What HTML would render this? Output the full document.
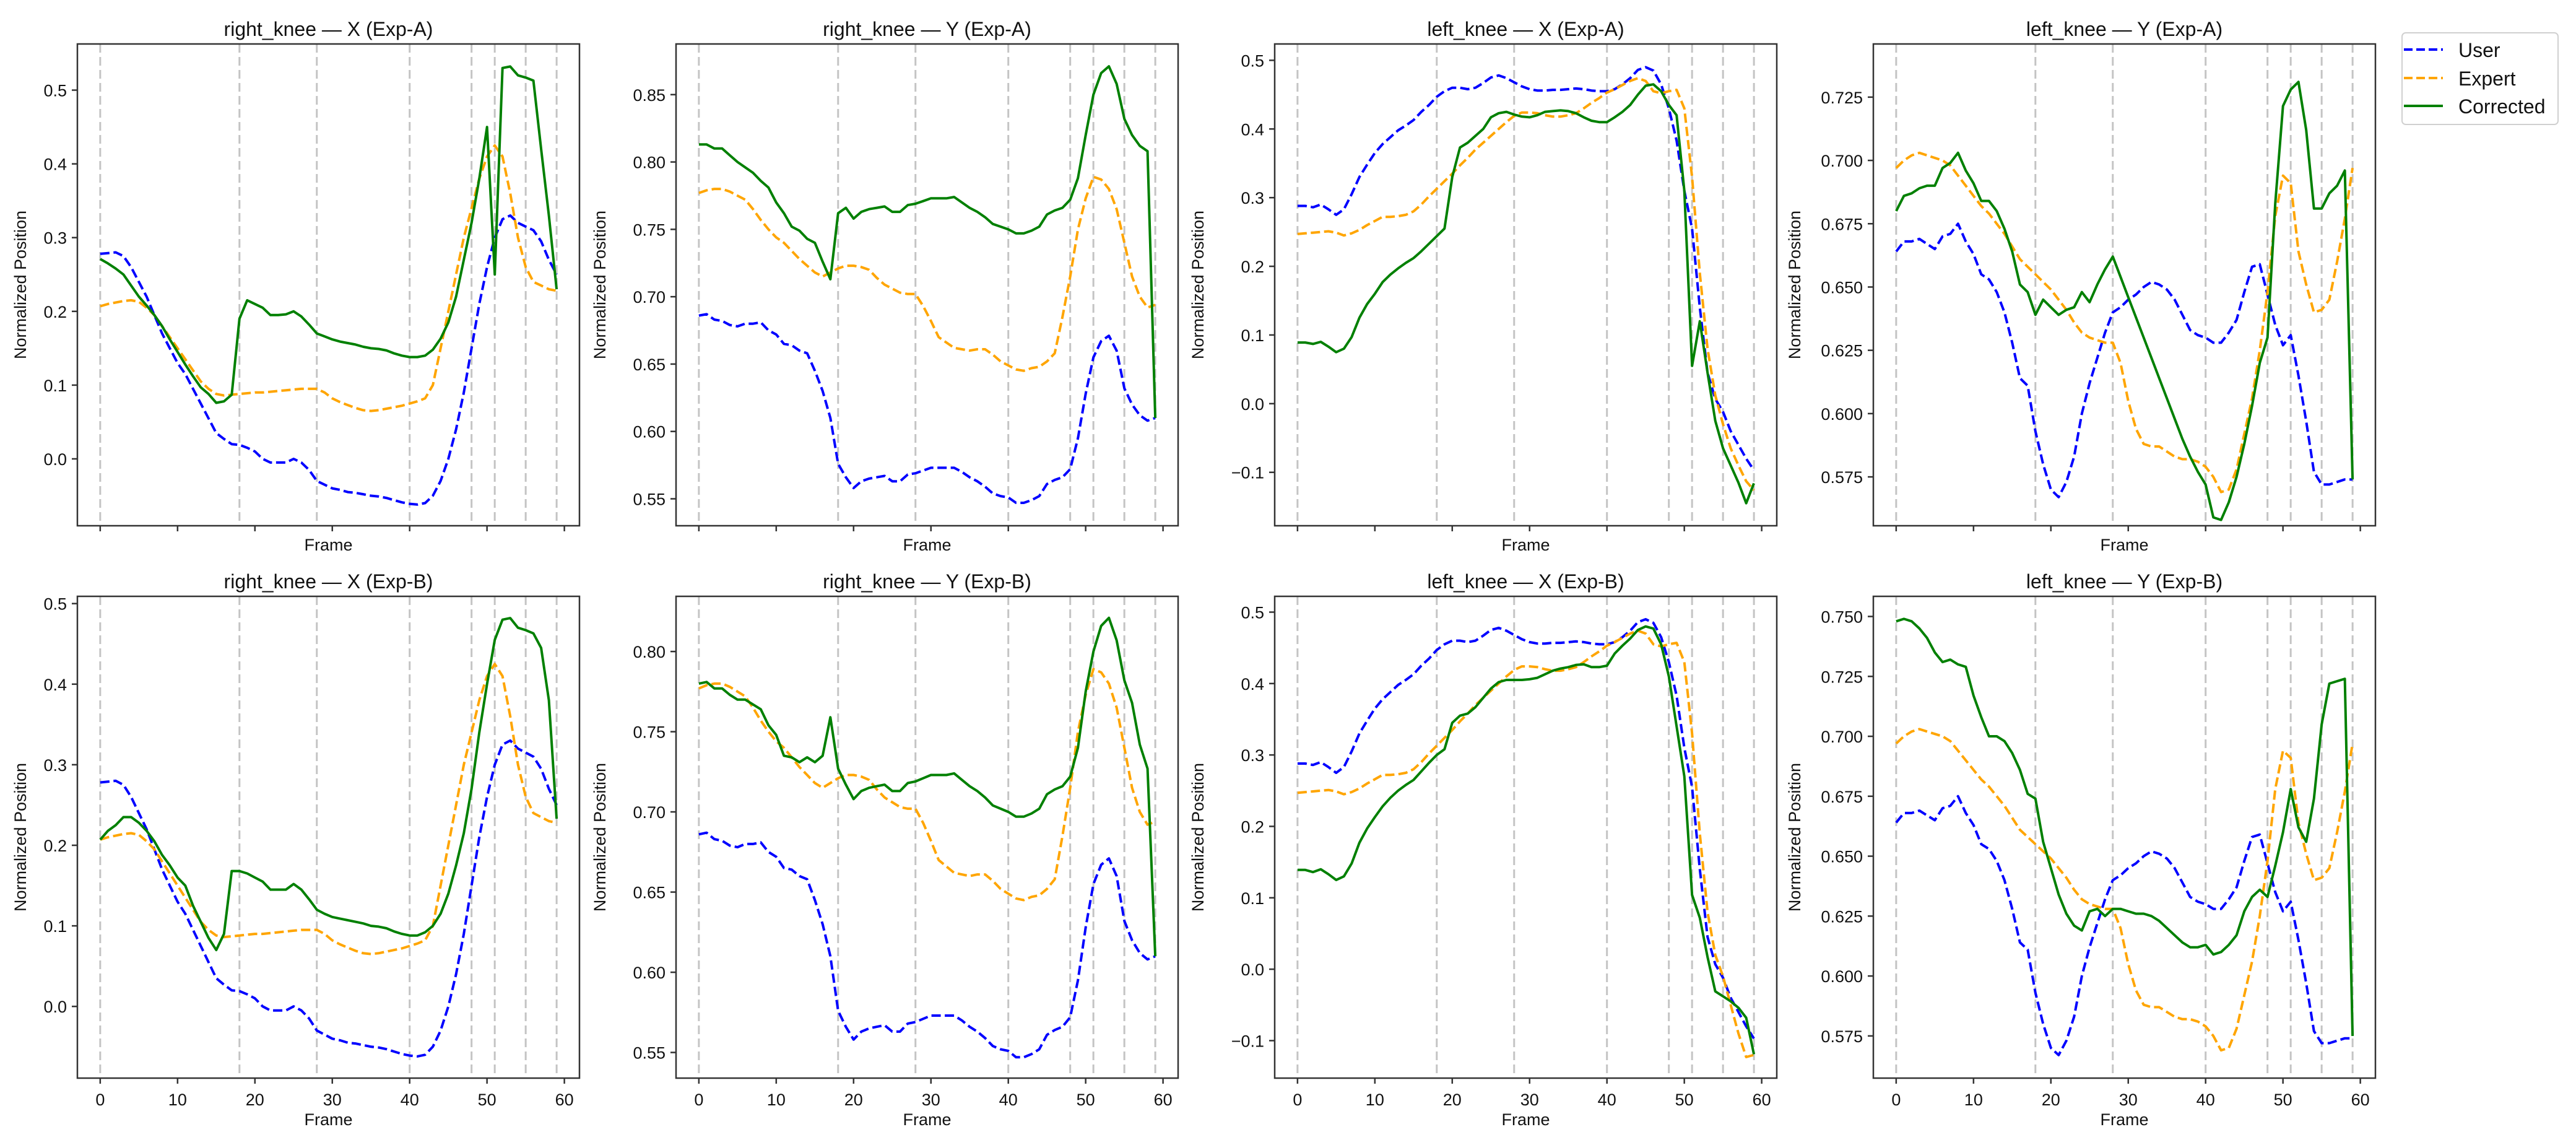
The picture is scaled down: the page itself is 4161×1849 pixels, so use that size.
<!DOCTYPE html>
<html><head><meta charset="utf-8"><title>Knee trajectories</title>
<style>html,body{margin:0;padding:0;background:#fff}svg{display:block}</style>
</head><body>
<svg id="fig" xmlns="http://www.w3.org/2000/svg" width="4161" height="1849" viewBox="0 0 4161 1849" font-family="'Liberation Sans','DejaVu Sans',sans-serif">
<rect x="0" y="0" width="4161" height="1849" fill="#fff"/>
<g id="legend">
  <rect x="3880" y="53" width="252" height="148" rx="6" fill="#fff" stroke="#d0d0d0" stroke-width="2"/>
  <g>
    <line x1="3883" y1="80" x2="3946" y2="80" stroke="#0000ff" stroke-width="4" stroke-dasharray="14 6"/>
    <text x="3971" y="92" font-size="32" fill="#111">User</text>
  </g>
  <g>
    <line x1="3883" y1="126" x2="3946" y2="126" stroke="#ffa500" stroke-width="4" stroke-dasharray="14 6"/>
    <text x="3971" y="138" font-size="32" fill="#111">Expert</text>
  </g>
  <g>
    <line x1="3883" y1="171" x2="3946" y2="171" stroke="#008000" stroke-width="4"/>
    <text x="3971" y="183" font-size="32" fill="#111">Corrected</text>
  </g>
</g>
</svg>
<script>
// ---------- data ----------
const frameMarkers = [0,18,28,40,48,51,55,59];
const xTicks = [0,10,20,30,40,50,60];

const rkX_user = [0.278,0.279,0.280,0.275,0.26,0.24,0.22,0.195,0.17,0.15,0.13,0.115,0.095,0.075,0.055,0.035,0.027,0.02,0.019,0.015,0.01,0.0,-0.005,-0.005,-0.005,0.0,-0.005,-0.015,-0.03,-0.035,-0.04,-0.042,-0.045,-0.046,-0.048,-0.05,-0.051,-0.053,-0.056,-0.059,-0.061,-0.062,-0.06,-0.05,-0.03,0.0,0.04,0.09,0.15,0.21,0.26,0.30,0.325,0.33,0.32,0.315,0.31,0.295,0.27,0.25];
const rkX_expert = [0.207,0.21,0.212,0.214,0.215,0.213,0.205,0.195,0.18,0.165,0.15,0.135,0.12,0.105,0.095,0.088,0.086,0.087,0.088,0.089,0.09,0.09,0.091,0.092,0.093,0.094,0.095,0.095,0.095,0.09,0.082,0.077,0.073,0.069,0.066,0.065,0.066,0.068,0.07,0.072,0.075,0.078,0.082,0.1,0.15,0.2,0.25,0.3,0.34,0.38,0.41,0.425,0.41,0.36,0.3,0.26,0.24,0.235,0.23,0.228];
const rkX_corrA = [0.271,0.265,0.258,0.25,0.235,0.22,0.208,0.195,0.18,0.162,0.145,0.128,0.112,0.097,0.088,0.076,0.078,0.087,0.19,0.215,0.21,0.205,0.195,0.195,0.196,0.2,0.193,0.182,0.17,0.166,0.162,0.159,0.157,0.155,0.152,0.15,0.149,0.147,0.143,0.14,0.138,0.138,0.14,0.148,0.163,0.185,0.22,0.27,0.32,0.38,0.45,0.25,0.53,0.532,0.52,0.517,0.513,0.42,0.33,0.23];
const rkX_corrB = [0.207,0.218,0.225,0.235,0.235,0.228,0.218,0.205,0.188,0.175,0.16,0.15,0.125,0.105,0.085,0.07,0.09,0.168,0.168,0.165,0.16,0.155,0.145,0.145,0.145,0.152,0.145,0.133,0.12,0.115,0.111,0.109,0.107,0.105,0.103,0.1,0.099,0.097,0.093,0.09,0.088,0.088,0.092,0.1,0.115,0.14,0.175,0.215,0.27,0.34,0.40,0.455,0.48,0.482,0.47,0.467,0.463,0.445,0.38,0.233];

const rkY_user = [0.686,0.687,0.683,0.682,0.679,0.678,0.680,0.680,0.681,0.675,0.672,0.665,0.664,0.660,0.658,0.645,0.630,0.610,0.576,0.566,0.558,0.563,0.565,0.566,0.567,0.563,0.563,0.568,0.569,0.571,0.573,0.573,0.573,0.573,0.570,0.566,0.563,0.559,0.554,0.552,0.551,0.547,0.547,0.549,0.552,0.561,0.564,0.566,0.572,0.595,0.628,0.655,0.667,0.671,0.660,0.632,0.620,0.612,0.608,0.610];
const rkY_expert = [0.777,0.779,0.780,0.780,0.778,0.775,0.772,0.765,0.757,0.750,0.744,0.740,0.734,0.728,0.723,0.718,0.715,0.718,0.721,0.723,0.723,0.722,0.720,0.714,0.709,0.706,0.703,0.702,0.702,0.693,0.682,0.670,0.666,0.662,0.661,0.660,0.661,0.661,0.657,0.652,0.649,0.646,0.645,0.647,0.648,0.652,0.658,0.685,0.715,0.750,0.773,0.789,0.787,0.780,0.765,0.740,0.715,0.700,0.692,0.694];
const rkY_corrA = [0.813,0.813,0.810,0.810,0.805,0.800,0.796,0.792,0.786,0.781,0.770,0.762,0.752,0.749,0.743,0.740,0.726,0.713,0.762,0.766,0.758,0.763,0.765,0.766,0.767,0.763,0.763,0.768,0.769,0.771,0.773,0.773,0.773,0.774,0.770,0.766,0.763,0.759,0.754,0.752,0.750,0.747,0.747,0.749,0.752,0.761,0.764,0.766,0.772,0.788,0.820,0.850,0.866,0.871,0.858,0.832,0.820,0.812,0.808,0.610];
const rkY_corrB = [0.780,0.781,0.777,0.777,0.773,0.770,0.770,0.767,0.764,0.754,0.748,0.735,0.734,0.731,0.734,0.731,0.735,0.759,0.727,0.717,0.708,0.713,0.715,0.716,0.717,0.713,0.713,0.718,0.719,0.721,0.723,0.723,0.723,0.724,0.720,0.716,0.713,0.709,0.704,0.702,0.700,0.697,0.697,0.699,0.702,0.711,0.714,0.716,0.722,0.740,0.775,0.800,0.816,0.821,0.807,0.782,0.768,0.742,0.727,0.610];

const lkX_user = [0.288,0.288,0.286,0.29,0.283,0.275,0.283,0.305,0.33,0.348,0.365,0.378,0.388,0.398,0.405,0.413,0.425,0.435,0.447,0.455,0.46,0.46,0.458,0.46,0.467,0.475,0.478,0.474,0.468,0.462,0.458,0.456,0.456,0.457,0.457,0.458,0.459,0.458,0.456,0.455,0.455,0.458,0.465,0.474,0.486,0.49,0.485,0.465,0.43,0.383,0.31,0.255,0.14,0.045,0.007,-0.012,-0.04,-0.06,-0.08,-0.097];
const lkX_expertA = [0.247,0.248,0.249,0.25,0.251,0.249,0.245,0.248,0.253,0.26,0.266,0.272,0.272,0.273,0.275,0.28,0.29,0.302,0.313,0.324,0.335,0.347,0.358,0.37,0.38,0.39,0.4,0.41,0.419,0.424,0.424,0.423,0.42,0.418,0.418,0.42,0.423,0.43,0.438,0.445,0.453,0.458,0.464,0.47,0.474,0.47,0.455,0.452,0.455,0.457,0.43,0.33,0.19,0.08,0.012,-0.03,-0.065,-0.09,-0.113,-0.126];
const lkX_expertB = [0.247,0.248,0.249,0.25,0.251,0.249,0.245,0.248,0.253,0.26,0.266,0.272,0.272,0.273,0.275,0.28,0.29,0.302,0.313,0.324,0.335,0.347,0.358,0.37,0.38,0.39,0.4,0.41,0.419,0.424,0.424,0.423,0.42,0.418,0.418,0.42,0.423,0.43,0.438,0.445,0.453,0.458,0.464,0.47,0.474,0.47,0.455,0.452,0.455,0.457,0.43,0.33,0.19,0.08,0.02,-0.01,-0.05,-0.09,-0.123,-0.12];
const lkX_corrA = [0.089,0.089,0.087,0.09,0.083,0.075,0.08,0.097,0.125,0.145,0.16,0.177,0.188,0.197,0.205,0.212,0.222,0.233,0.244,0.255,0.33,0.373,0.38,0.39,0.40,0.417,0.423,0.425,0.421,0.418,0.417,0.42,0.425,0.426,0.427,0.426,0.423,0.417,0.412,0.41,0.41,0.417,0.425,0.435,0.45,0.463,0.465,0.455,0.435,0.42,0.31,0.055,0.12,0.045,-0.025,-0.065,-0.09,-0.115,-0.145,-0.116];
const lkX_corrB = [0.139,0.139,0.136,0.14,0.133,0.125,0.13,0.148,0.177,0.197,0.213,0.228,0.24,0.25,0.258,0.265,0.277,0.289,0.3,0.308,0.345,0.355,0.358,0.367,0.38,0.393,0.402,0.405,0.405,0.405,0.406,0.408,0.413,0.418,0.421,0.423,0.426,0.427,0.423,0.423,0.425,0.442,0.453,0.463,0.475,0.48,0.477,0.455,0.41,0.34,0.27,0.104,0.072,0.017,-0.031,-0.038,-0.045,-0.054,-0.068,-0.119];

const lkY_user = [0.664,0.668,0.668,0.669,0.667,0.665,0.67,0.671,0.675,0.668,0.663,0.655,0.653,0.648,0.64,0.628,0.614,0.611,0.593,0.58,0.57,0.567,0.573,0.583,0.6,0.612,0.622,0.632,0.64,0.642,0.645,0.647,0.65,0.652,0.651,0.649,0.645,0.639,0.633,0.631,0.63,0.628,0.628,0.632,0.637,0.648,0.658,0.659,0.647,0.635,0.627,0.631,0.615,0.597,0.577,0.572,0.572,0.573,0.574,0.574];
const lkY_expert = [0.697,0.700,0.702,0.703,0.702,0.701,0.700,0.698,0.694,0.69,0.686,0.682,0.679,0.675,0.671,0.666,0.661,0.658,0.655,0.652,0.649,0.645,0.641,0.636,0.632,0.63,0.629,0.628,0.628,0.62,0.605,0.594,0.588,0.587,0.587,0.585,0.583,0.582,0.582,0.581,0.579,0.575,0.569,0.57,0.578,0.592,0.606,0.625,0.648,0.678,0.694,0.691,0.664,0.651,0.64,0.641,0.645,0.66,0.677,0.697];
const lkY_corrA = [0.68,0.686,0.687,0.689,0.690,0.690,0.697,0.699,0.703,0.696,0.691,0.684,0.684,0.68,0.673,0.664,0.651,0.648,0.639,0.645,0.642,0.639,0.641,0.642,0.648,0.644,0.651,0.657,0.662,0.654,0.646,0.638,0.63,0.622,0.614,0.606,0.598,0.59,0.583,0.577,0.572,0.559,0.558,0.565,0.575,0.588,0.603,0.62,0.63,0.683,0.7215,0.728,0.731,0.712,0.681,0.681,0.687,0.690,0.696,0.574];
const lkY_corrB = [0.748,0.749,0.748,0.745,0.741,0.735,0.731,0.732,0.730,0.729,0.717,0.708,0.7,0.7,0.698,0.693,0.686,0.676,0.674,0.656,0.645,0.634,0.626,0.621,0.619,0.627,0.628,0.625,0.628,0.628,0.627,0.626,0.626,0.625,0.623,0.62,0.617,0.614,0.612,0.612,0.613,0.609,0.61,0.613,0.617,0.627,0.633,0.636,0.633,0.646,0.66,0.678,0.662,0.656,0.674,0.705,0.722,0.723,0.724,0.575];

const titles = ["right_knee — X (Exp-A)","right_knee — Y (Exp-A)","left_knee — X (Exp-A)","left_knee — Y (Exp-A)",
                "right_knee — X (Exp-B)","right_knee — Y (Exp-B)","left_knee — X (Exp-B)","left_knee — Y (Exp-B)"];
const yTicks1 = [0.0,0.1,0.2,0.3,0.4,0.5];
const yTicks2 = [0.55,0.60,0.65,0.70,0.75,0.80,0.85];
const yTicks3 = [-0.1,0.0,0.1,0.2,0.3,0.4,0.5];
const yTicks4 = [0.575,0.600,0.625,0.650,0.675,0.700,0.725];
const yTicks6 = [0.55,0.60,0.65,0.70,0.75,0.80];
const yTicks8 = [0.575,0.600,0.625,0.650,0.675,0.700,0.725,0.750];
const userSeries = [rkX_user,rkY_user,lkX_user,lkY_user,rkX_user,rkY_user,lkX_user,lkY_user];
const expertSeries = [rkX_expert,rkY_expert,lkX_expertA,lkY_expert,rkX_expert,rkY_expert,lkX_expertB,lkY_expert];
const correctedSeries = [rkX_corrA,rkY_corrA,lkX_corrA,lkY_corrA,rkX_corrB,rkY_corrB,lkX_corrB,lkY_corrB];
const yTickSets = [yTicks1,yTicks2,yTicks3,yTicks4,yTicks1,yTicks6,yTicks3,yTicks8];

// ---------- layout (axis settings) ----------
const yLims = [[-0.0907,0.5626],[0.530,0.8876],[-0.1778,0.5238],[0.5557,0.746],
               [-0.089,0.509],[0.534,0.8344],[-0.1525,0.5221],[0.5574,0.7584]];
const tickDecimals = [1,2,1,3,1,2,1,3];
const ylabelOffset = [83,114,115,118];
const colLeft = [125,1092,2059,3026];
const rowTop = [71,963];
const AXW = 811, AXH = 778;
const XMIN = -2.95, XMAX = 61.95;

const NS = "http://www.w3.org/2000/svg";
const svg = document.getElementById('fig');
const legend = document.getElementById('legend');
function mk(tag, attrs, parent){
  const e = document.createElementNS(NS, tag);
  for (const k in attrs) e.setAttribute(k, attrs[k]);
  (parent||svg).appendChild(e);
  return e;
}
function fmt(v, d){ const s = Math.abs(v).toFixed(d); return (v < -1e-9 ? "\u2212" : "") + s; }

for (let p = 0; p < 8; p++){
  const row = Math.floor(p/4), col = p%4;
  const L = colLeft[col], T = rowTop[row];
  const [y0,y1] = yLims[p];
  const xs = f => L + (f - XMIN)/(XMAX - XMIN)*AXW;
  const ys = v => T + AXH - (v - y0)/(y1 - y0)*AXH;

  const g = mk('g', {});
  
  
  svg.insertBefore(g, legend);

  const clipId = 'clip' + p;
  const cp = mk('clipPath', {id: clipId}, g);
  mk('rect', {x: L, y: T, width: AXW, height: AXH}, cp);

  // title
  const t = mk('text', {x: L + AXW/2, y: T - 13, 'text-anchor': 'middle', 'font-size': 32, fill: '#111'}, g);
  t.textContent = titles[p];
  
  

  // frame markers
  const mg = mk('g', {'clip-path': 'url(#' + clipId + ')'}, g);
  
  
  frameMarkers.forEach(f => {
    const ln = mk('line', {x1: xs(f), x2: xs(f), y1: T, y2: T + AXH, stroke: '#c4c4c4', 'stroke-width': 3, 'stroke-dasharray': '14 7'}, mg);
    
    
  });

  // series
  const series = [
    {d: userSeries[p], c: '#0000ff', dash: '15 6.5', n: 'user-line'},
    {d: expertSeries[p], c: '#ffa500', dash: '15 6.5', n: 'expert-line'},
    {d: correctedSeries[p], c: '#008000', dash: null, n: 'corrected-line'}
  ];
  const sg = mk('g', {'clip-path': 'url(#' + clipId + ')'}, g);
  series.forEach(s => {
    const pts = s.d.map((v,i) => xs(i).toFixed(1) + ',' + ys(v).toFixed(1)).join(' ');
    const attrs = {points: pts, fill: 'none', stroke: s.c, 'stroke-width': 4, 'stroke-linejoin': 'round'};
    if (s.dash) attrs['stroke-dasharray'] = s.dash;
    const pl = mk('polyline', attrs, sg);
    
    
  });

  // spines
  const sp = mk('rect', {x: L, y: T, width: AXW, height: AXH, fill: 'none', stroke: '#333', 'stroke-width': 2.5}, g);
  
  

  // x ticks
  xTicks.forEach(f => {
    const x = xs(f);
    mk('line', {x1: x, x2: x, y1: T + AXH, y2: T + AXH + 9, stroke: '#333', 'stroke-width': 2.5}, g);
    if (row === 1){
      const tl = mk('text', {x: x, y: T + AXH + 44, 'text-anchor': 'middle', 'font-size': 27, fill: '#111'}, g);
      tl.textContent = String(f);
      
      
    }
  });
  const xl = mk('text', {x: L + AXW/2, y: row === 0 ? T + AXH + 40 : T + AXH + 76, 'text-anchor': 'middle', 'font-size': 27, fill: '#111'}, g);
  xl.textContent = 'Frame';
  
  

  // y ticks
  yTickSets[p].forEach(v => {
    const y = ys(v);
    mk('line', {x1: L - 9, x2: L, y1: y, y2: y, stroke: '#333', 'stroke-width': 2.5}, g);
    const tl = mk('text', {x: L - 17, y: y + 10, 'text-anchor': 'end', 'font-size': 27, fill: '#111'}, g);
    tl.textContent = fmt(v, tickDecimals[p]);
    
    
  });
  const yx = L - ylabelOffset[col], yy = T + AXH/2;
  const yl = mk('text', {x: yx, y: yy, 'text-anchor': 'middle', 'font-size': 27, fill: '#111', transform: 'rotate(-90 ' + yx + ' ' + yy + ')'}, g);
  yl.textContent = 'Normalized Position';
  
  
}
</script>
</body></html>
